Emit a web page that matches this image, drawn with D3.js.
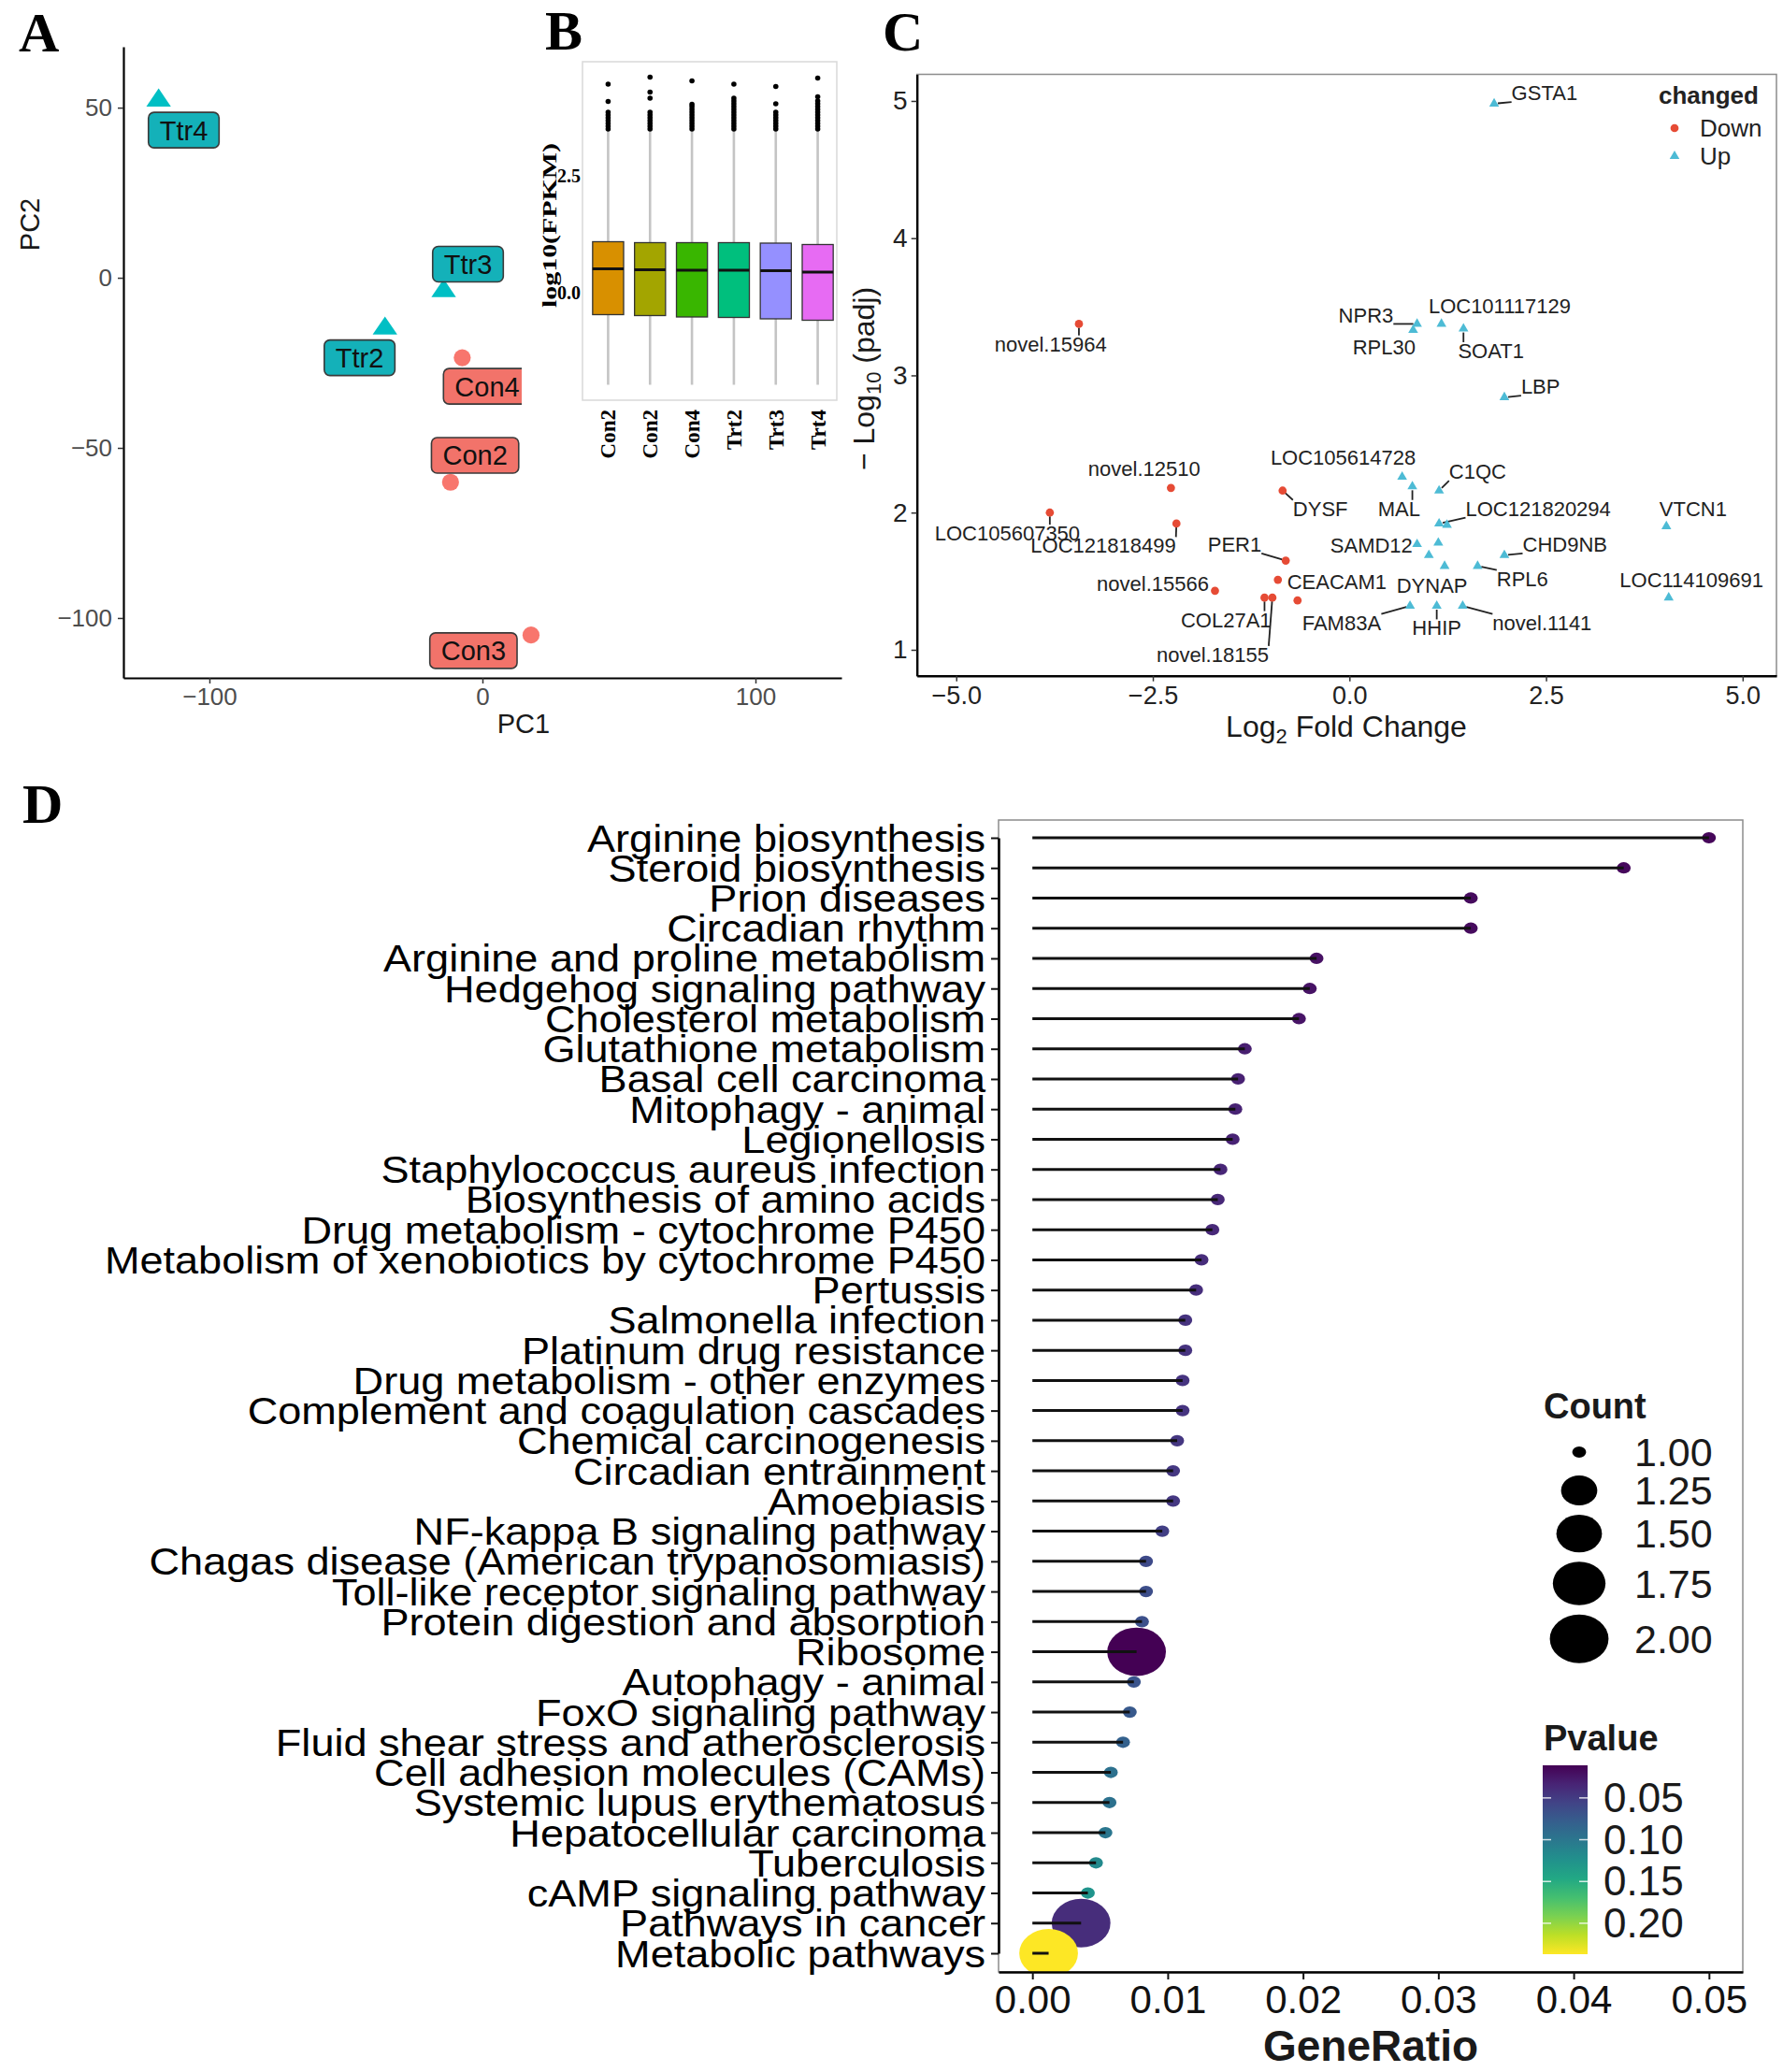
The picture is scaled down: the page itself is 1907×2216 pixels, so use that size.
<!DOCTYPE html>
<html>
<head>
<meta charset="utf-8">
<script src="https://cdn.jsdelivr.net/npm/d3@7"></script>
<style>
  body { margin: 0; background: #fff; }
  svg  { display: block; }
</style>
</head>
<body>
<script>
// ---------------- Data ----------------

// A: PCA
var pcaSample = ["Ttr4", "Ttr3", "Ttr2", "Con4", "Con2", "Con3"]
var pcaGroup  = ["Trt", "Trt", "Trt", "Con", "Con", "Con"]
var pcaPC1    = [-118.6, -14.2, -35.7, -7.4, -11.7, 17.8]
var pcaPC2    = [52.1, -3.9, -14.9, -23.5, -60.1, -105.0]
var pcaLabPC1 = [-109.4, -5.3, -45.0, 1.7, -2.7, -3.3]   // label (repel) positions
var pcaLabPC2 = [43.4, 4.0, -23.5, -31.9, -52.2, -109.6]
var pcaTicksX = [-100, 0, 100]
var pcaTicksY = [-100, -50, 0, 50]

// B: log10(FPKM) boxplots
var fpkmSample = ["Con2", "Con2", "Con4", "Trt2", "Trt3", "Trt4"]
var fpkmLow    = [-1.97, -1.97, -1.97, -1.97, -1.97, -1.97]
var fpkmQ1     = [-0.47, -0.49, -0.52, -0.53, -0.56, -0.59]
var fpkmMedian = [0.51, 0.49, 0.48, 0.48, 0.47, 0.44]
var fpkmQ3     = [1.09, 1.07, 1.07, 1.07, 1.06, 1.03]
var fpkmHigh   = [3.46, 3.46, 3.46, 3.46, 3.46, 3.46]
var fpkmOutliers = [
  [3.5, 3.56, 3.62, 3.68, 3.74, 3.8, 3.86, 4.09, 4.46],
  [3.5, 3.56, 3.62, 3.68, 3.74, 3.8, 3.86, 4.16, 4.29, 4.61],
  [3.5, 3.56, 3.62, 3.68, 3.74, 3.8, 3.86, 3.92, 3.98, 4.03, 4.53],
  [3.5, 3.56, 3.62, 3.68, 3.74, 3.8, 3.86, 3.92, 3.98, 4.04, 4.1, 4.16, 4.46],
  [3.5, 3.56, 3.62, 3.68, 3.74, 3.8, 3.86, 4.04, 4.41],
  [3.5, 3.56, 3.62, 3.68, 3.74, 3.8, 3.86, 3.92, 3.98, 4.04, 4.1, 4.19, 4.59]
]
var fpkmTicks = [0, 2.5]

// C: volcano
var geneName    = ["novel.15964", "novel.12510", "DYSF", "LOC105607350", "LOC121818499", "PER1", "CEACAM1", "",
                   "novel.15566", "COL27A1", "novel.18155",
                   "GSTA1", "NPR3", "RPL30", "LOC101117129", "SOAT1", "LBP", "LOC105614728", "MAL", "C1QC",
                   "LOC121820294", "", "VTCN1", "SAMD12", "", "", "CHD9NB", "DYNAP", "RPL6", "LOC114109691",
                   "FAM83A", "HHIP", "novel.1141"]
var geneLFC     = [-3.44, -2.27, -0.85, -3.81, -2.20, -0.81, -0.66, -0.91, -1.71, -1.08, -0.98,
                   1.84, 0.86, 0.81, 1.17, 1.45, 1.97, 0.67, 0.80, 1.14,
                   1.14, 1.24, 4.03, 0.86, 1.13, 1.01, 1.97, 1.21, 1.63, 4.06,
                   0.77, 1.11, 1.44]
var geneLogP    = [3.375, 2.18, 2.16, 2.00, 1.92, 1.65, 1.36, 1.51, 1.43, 1.38, 1.38,
                   4.98, 3.375, 3.33, 3.375, 3.34, 2.84, 2.26, 2.19, 2.16,
                   1.92, 1.91, 1.90, 1.77, 1.78, 1.69, 1.69, 1.61, 1.61, 1.38,
                   1.32, 1.32, 1.32]
var geneChanged = ["Down", "Down", "Down", "Down", "Down", "Down", "Down", "Down", "Down", "Down", "Down",
                   "Up", "Up", "Up", "Up", "Up", "Up", "Up", "Up", "Up",
                   "Up", "Up", "Up", "Up", "Up", "Up", "Up", "Up", "Up", "Up",
                   "Up", "Up", "Up"]
var geneLabLFC  = [-3.80, -2.61, -0.37, -4.35, -3.13, -1.46, -0.16, null, -2.50, -1.57, -1.74,
                   2.48, 0.21, 0.44, 1.91, 1.80, 2.43, -0.08, 0.63, 1.63,
                   2.40, null, 4.37, 0.28, null, null, 2.74, 1.05, 2.20, 4.35,
                   -0.10, 1.11, 2.45]
var geneLabLogP = [3.23, 2.32, 2.03, 1.85, 1.76, 1.77, 1.50, null, 1.48, 1.22, 0.966,
                   5.06, 3.44, 3.21, 3.51, 3.18, 2.92, 2.40, 2.03, 2.30,
                   2.03, null, 2.03, 1.76, null, null, 1.77, 1.47, 1.52, 1.51,
                   1.20, 1.16, 1.20]
var volcanoTicksX = [-5, -2.5, 0, 2.5, 5]
var volcanoTicksY = [1, 2, 3, 4, 5]
var changedLevels = ["Down", "Up"]

// D: KEGG enrichment lollipop
var pathways = ["Arginine biosynthesis", "Steroid biosynthesis", "Prion diseases", "Circadian rhythm",
  "Arginine and proline metabolism", "Hedgehog signaling pathway", "Cholesterol metabolism",
  "Glutathione metabolism", "Basal cell carcinoma", "Mitophagy - animal", "Legionellosis",
  "Staphylococcus aureus infection", "Biosynthesis of amino acids", "Drug metabolism - cytochrome P450",
  "Metabolism of xenobiotics by cytochrome P450", "Pertussis", "Salmonella infection",
  "Platinum drug resistance", "Drug metabolism - other enzymes", "Complement and coagulation cascades",
  "Chemical carcinogenesis", "Circadian entrainment", "Amoebiasis", "NF-kappa B signaling pathway",
  "Chagas disease (American trypanosomiasis)", "Toll-like receptor signaling pathway",
  "Protein digestion and absorption", "Ribosome", "Autophagy - animal", "FoxO signaling pathway",
  "Fluid shear stress and atherosclerosis", "Cell adhesion molecules (CAMs)",
  "Systemic lupus erythematosus", "Hepatocellular carcinoma", "Tuberculosis",
  "cAMP signaling pathway", "Pathways in cancer", "Metabolic pathways"]
var geneRatio = [0.0500, 0.0437, 0.0324, 0.0324, 0.0210, 0.0205, 0.0197, 0.0157, 0.0152, 0.0150,
  0.0148, 0.0139, 0.0137, 0.0133, 0.0125, 0.0121, 0.0113, 0.0113, 0.0111, 0.0111,
  0.0107, 0.0104, 0.0104, 0.0096, 0.0084, 0.0084, 0.0081, 0.0077, 0.0075, 0.0072,
  0.0067, 0.0058, 0.0057, 0.0054, 0.0047, 0.0041, 0.0036, 0.0012]
var geneCount = [1, 1, 1, 1, 1, 1, 1, 1, 1, 1, 1, 1, 1, 1, 1, 1, 1, 1, 1, 1,
  1, 1, 1, 1, 1, 1, 1, 2, 1, 1, 1, 1, 1, 1, 1, 1, 2, 2]
var pValue = [0.015, 0.016, 0.018, 0.018, 0.021, 0.022, 0.023, 0.030, 0.032, 0.033,
  0.033, 0.035, 0.036, 0.037, 0.040, 0.041, 0.044, 0.044, 0.045, 0.045,
  0.047, 0.048, 0.048, 0.053, 0.062, 0.064, 0.066, 0.011, 0.070, 0.073,
  0.080, 0.094, 0.095, 0.100, 0.118, 0.128, 0.040, 0.237]
var ratioTicks = [0, 0.01, 0.02, 0.03, 0.04, 0.05]
var countBreaks = [1, 1.25, 1.5, 1.75, 2]
var pvalueBreaks = [0.05, 0.10, 0.15, 0.20]

// ---------------- Setup ----------------
var W = 1907, H = 2216
var SANS  = "'Liberation Sans', Arial, Helvetica, sans-serif",
    SERIF = "'Liberation Serif', 'Times New Roman', serif"

var svg = d3.select("body").append("svg")
            .attr("width", W).attr("height", H)
            .attr("font-family", SANS)
svg.append("rect").attr("width", W).attr("height", H).attr("fill", "#fff")

// Restyle a d3 axis group
function styleAxis (g, o) {
  g.attr("font-family", o.font || SANS)
  g.select(".domain").attr("stroke", o.line || "#000").attr("stroke-width", o.lineW || 2)
  g.selectAll(".tick line").attr("stroke", o.tick || "#333").attr("stroke-width", o.tickW || 1.5)
  g.selectAll(".tick text").attr("fill", o.text || "#4d4d4d")
   .attr("font-size", o.size).attr("font-weight", o.weight || "normal")
}

// Panel letters
function panelLetter (txt, x, y) {
  svg.append("text").attr("x", x).attr("y", y)
     .attr("font-family", SERIF).attr("font-weight", "bold").attr("font-size", 60)
     .text(txt)
}

// ---------------- A: PCA ----------------
var xA = d3.scaleLinear().domain([-131.5, 131.5]).range([132, 900]),
    yA = d3.scaleLinear().domain([-117.6, 67.9]).range([725, 50])
var gA = svg.append("g")

gA.append("g").attr("transform", "translate(0,725)")
  .call(d3.axisBottom(xA).tickValues(pcaTicksX).tickSize(6).tickSizeOuter(0).tickPadding(5))
  .call(styleAxis, { size: 26, lineW: 2.2 })
gA.append("g").attr("transform", "translate(132,0)")
  .call(d3.axisLeft(yA).tickValues(pcaTicksY).tickSize(6).tickSizeOuter(0).tickPadding(6))
  .call(styleAxis, { size: 26, lineW: 2.2 })

gA.append("text").attr("x", 560).attr("y", 784).attr("text-anchor", "middle")
  .attr("font-size", 29).attr("fill", "#1a1a1a").text("PC1")
gA.append("text").attr("transform", "translate(42,240) rotate(-90)").attr("text-anchor", "middle")
  .attr("font-size", 29).attr("fill", "#1a1a1a").text("PC2")

var pcaIdx = d3.range(pcaSample.length)
var ptColour  = { Trt: "#00BFC4", Con: "#F8766D" },
    boxColour = { Trt: "#14B1B9", Con: "#F2736A" }

// Points
gA.selectAll(".pt").data(pcaIdx).enter()
  .append("path")
    .attr("class", "pt")
    .attr("d", function (i) {
      return pcaGroup[i] == "Trt"
        ? d3.symbol().type(d3.symbolTriangle).size(300)()
        : d3.symbol().type(d3.symbolCircle).size(260)()
    })
    .attr("transform", function (i) {
      return "translate(" + xA(pcaPC1[i]) + "," + yA(pcaPC2[i]) + ")" +
             (pcaGroup[i] == "Trt" ? " scale(1,0.85)" : "")
    })
    .attr("fill", function (i) { return ptColour[pcaGroup[i]] })

// Labels with boxes
pcaIdx.forEach(function (i) {
  var g = gA.append("g")
            .attr("transform", "translate(" + xA(pcaLabPC1[i]) + "," + yA(pcaLabPC2[i]) + ")")
  var t = g.append("text").attr("text-anchor", "middle").attr("dy", "0.36em")
           .attr("font-size", 29).attr("fill", "#111").text(pcaSample[i])
  var w = t.node().getComputedTextLength()
  g.insert("rect", "text")
   .attr("x", -w / 2 - 12).attr("y", -19).attr("width", w + 24).attr("height", 38)
   .attr("rx", 6).attr("fill", boxColour[pcaGroup[i]])
   .attr("stroke", "#3a3a3a").attr("stroke-width", 1.6)
})

// ---------------- B: boxplots ----------------
var gB = svg.append("g")
gB.append("rect").attr("x", 558).attr("y", 0).attr("width", 345).attr("height", 520).attr("fill", "#fff")

var fpkmColour = ["#D89000", "#A3A500", "#39B600", "#00BF7D", "#9590FF", "#E76BF3"]
var xB = d3.scaleBand().domain(d3.range(fpkmSample.length)).range([628, 897])
           .paddingInner(0.26).paddingOuter(0.13),
    yB = d3.scaleLinear().domain([-2.3, 4.94]).range([428, 66])

gB.append("rect").attr("x", 623).attr("y", 66).attr("width", 272).attr("height", 362)
  .attr("fill", "none").attr("stroke", "#d9d9d9").attr("stroke-width", 1.5)

var boxes = gB.selectAll(".box").data(d3.range(fpkmSample.length)).enter()
              .append("g").attr("class", "box")
boxes.append("line")
  .attr("x1", function (i) { return xB(i) + xB.bandwidth() / 2 })
  .attr("x2", function (i) { return xB(i) + xB.bandwidth() / 2 })
  .attr("y1", function (i) { return yB(fpkmLow[i]) })
  .attr("y2", function (i) { return yB(fpkmHigh[i]) })
  .attr("stroke", "#c4c4c4").attr("stroke-width", 2.6)
boxes.append("rect")
  .attr("x", function (i) { return xB(i) })
  .attr("width", xB.bandwidth())
  .attr("y", function (i) { return yB(fpkmQ3[i]) })
  .attr("height", function (i) { return yB(fpkmQ1[i]) - yB(fpkmQ3[i]) })
  .attr("fill", function (i) { return fpkmColour[i] })
  .attr("stroke", "#333").attr("stroke-width", 1.3)
boxes.append("line")
  .attr("x1", function (i) { return xB(i) })
  .attr("x2", function (i) { return xB(i) + xB.bandwidth() })
  .attr("y1", function (i) { return yB(fpkmMedian[i]) })
  .attr("y2", function (i) { return yB(fpkmMedian[i]) })
  .attr("stroke", "#111").attr("stroke-width", 3)
boxes.each(function (i) {
  d3.select(this).selectAll("circle").data(fpkmOutliers[i]).enter()
    .append("circle")
      .attr("cx", xB(i) + xB.bandwidth() / 2)
      .attr("cy", function (v) { return yB(v) })
      .attr("r", 2.8).attr("fill", "#000")
})

gB.selectAll(".ytk").data(fpkmTicks).enter()
  .append("text")
    .attr("x", 621).attr("y", function (v) { return yB(v) })
    .attr("dy", "0.35em").attr("text-anchor", "end")
    .attr("font-family", SERIF).attr("font-weight", "bold").attr("font-size", 20)
    .text(d3.format(".1f"))
gB.append("text").attr("transform", "translate(595,241) rotate(-90)").attr("text-anchor", "middle")
  .attr("font-family", SERIF).attr("font-weight", "bold").attr("font-size", 22)
  .attr("textLength", 176).attr("lengthAdjust", "spacingAndGlyphs")
  .text("log10(FPKM)")
gB.selectAll(".xtk").data(d3.range(fpkmSample.length)).enter()
  .append("text")
    .attr("transform", function (i) {
      return "translate(" + (xB(i) + xB.bandwidth() / 2 + 8) + ",438) rotate(-90)"
    })
    .attr("text-anchor", "end")
    .attr("font-family", SERIF).attr("font-weight", "bold").attr("font-size", 23)
    .text(function (i) { return fpkmSample[i] })

// ---------------- C: volcano ----------------
var gC = svg.append("g")
var xC = d3.scaleLinear().domain([-5.5, 5.43]).range([980.7, 1900]),
    yC = d3.scaleLinear().domain([0.811, 5.194]).range([722.7, 79.5])
var changedColour = { Down: "#E64B35", Up: "#4DBBD5" }

gC.append("rect").attr("x", 980.7).attr("y", 79.5).attr("width", 1900 - 980.7).attr("height", 722.7 - 79.5)
  .attr("fill", "none").attr("stroke", "#8c8c8c").attr("stroke-width", 1.5)
gC.append("g").attr("transform", "translate(0,722.7)")
  .call(d3.axisBottom(xC).tickValues(volcanoTicksX).tickFormat(d3.format(".1f"))
          .tickSize(6).tickSizeOuter(0).tickPadding(5))
  .call(styleAxis, { size: 27, text: "#222", lineW: 2.4 })
gC.append("g").attr("transform", "translate(980.7,0)")
  .call(d3.axisLeft(yC).tickValues(volcanoTicksY).tickFormat(d3.format("d"))
          .tickSize(6).tickSizeOuter(0).tickPadding(4))
  .call(styleAxis, { size: 28, text: "#222", lineW: 2.4 })

var xt = gC.append("text").attr("x", 1440).attr("y", 788).attr("text-anchor", "middle")
           .attr("font-size", 32).attr("fill", "#1a1a1a")
xt.append("tspan").text("Log")
xt.append("tspan").attr("font-size", 22).attr("dy", 7).text("2")
xt.append("tspan").attr("dy", -7).text(" Fold Change")
var yt = gC.append("text").attr("transform", "translate(935,405) rotate(-90)").attr("text-anchor", "middle")
           .attr("font-size", 32).attr("fill", "#1a1a1a")
yt.append("tspan").text("\u2212 Log")
yt.append("tspan").attr("font-size", 22).attr("dy", 7).text("10")
yt.append("tspan").attr("dy", -7).text(" (padj)")

var geneIdx = d3.range(geneName.length)
var triSmall = d3.symbol().type(d3.symbolTriangle).size(48)(),
    cirSmall = d3.symbol().type(d3.symbolCircle).size(60)()

// Labels first (to get bboxes), segments, then points on top
var segLayer = gC.append("g"), labLayer = gC.append("g"), ptLayer = gC.append("g")
geneIdx.forEach(function (i) {
  if (!geneName[i]) return
  var t = labLayer.append("text")
    .attr("x", xC(geneLabLFC[i])).attr("y", yC(geneLabLogP[i]))
    .attr("dy", "0.36em").attr("text-anchor", "middle")
    .attr("font-size", 22).attr("fill", "#222").text(geneName[i])
  var b  = t.node().getBBox(),
      px = xC(geneLFC[i]), py = yC(geneLogP[i]),
      nx = Math.max(b.x, Math.min(px, b.x + b.width)),
      ny = Math.max(b.y + 3, Math.min(py, b.y + b.height - 3)),
      d  = Math.hypot(nx - px, ny - py)
  if (d > 12) {
    segLayer.append("line")
      .attr("x1", px + (nx - px) * 4 / d).attr("y1", py + (ny - py) * 4 / d)
      .attr("x2", nx).attr("y2", ny)
      .attr("stroke", "#222").attr("stroke-width", 1.8)
  }
})
ptLayer.selectAll("path").data(geneIdx).enter()
  .append("path")
    .attr("d", function (i) { return geneChanged[i] == "Up" ? triSmall : cirSmall })
    .attr("transform", function (i) { return "translate(" + xC(geneLFC[i]) + "," + yC(geneLogP[i]) + ")" })
    .attr("fill", function (i) { return changedColour[geneChanged[i]] })

// Legend
gC.append("text").attr("x", 1774).attr("y", 111).attr("font-size", 26).attr("font-weight", "bold")
  .attr("fill", "#222").text("changed")
changedLevels.forEach(function (lv, k) {
  var y = 137 + k * 30
  gC.append("path")
    .attr("d", lv == "Up" ? triSmall : cirSmall)
    .attr("transform", "translate(1791," + y + ")")
    .attr("fill", changedColour[lv])
  gC.append("text").attr("x", 1818).attr("y", y + 9).attr("font-size", 26)
    .attr("fill", "#222").text(lv)
})

// ---------------- D: lollipop ----------------
var gD = svg.append("g")
var xD = d3.scaleLinear().domain([-0.0025, 0.0525]).range([1068, 1864]),
    yD = d3.scalePoint().domain(pathways).range([896, 2089])
var pCol  = d3.scaleSequential(d3.interpolateViridis).domain(d3.extent(pValue))
var rSize = d3.scaleLinear().domain([0, 1]).range([6.8, 28.8]) // area-style: r on sqrt of rescaled count
function radius (c) { return rSize(Math.sqrt((c - 1) / (2 - 1))) }

gD.append("clipPath").attr("id", "clipD")
  .append("rect").attr("x", 1068).attr("y", 877).attr("width", 796).attr("height", 1232)
gD.append("rect").attr("x", 1068).attr("y", 877).attr("width", 796).attr("height", 1232)
  .attr("fill", "none").attr("stroke", "#8c8c8c").attr("stroke-width", 1.5)

var dIdx = d3.range(pathways.length)
var plot = gD.append("g").attr("clip-path", "url(#clipD)")
plot.selectAll("ellipse").data(dIdx).enter()
  .append("ellipse")
    .attr("cx", function (i) { return xD(geneRatio[i]) })
    .attr("cy", function (i) { return yD(pathways[i]) })
    .attr("rx", function (i) { return radius(geneCount[i]) * 1.09 })
    .attr("ry", function (i) { return radius(geneCount[i]) * 0.9 })
    .attr("fill", function (i) { return pCol(pValue[i]) })
plot.selectAll("line").data(dIdx).enter()
  .append("line")
    .attr("x1", xD(0))
    .attr("x2", function (i) { return xD(geneRatio[i]) })
    .attr("y1", function (i) { return yD(pathways[i]) })
    .attr("y2", function (i) { return yD(pathways[i]) })
    .attr("stroke", "#111").attr("stroke-width", 3)

gD.append("g").attr("transform", "translate(0,2109)")
  .call(d3.axisBottom(xD).tickValues(ratioTicks).tickFormat(d3.format(".2f"))
          .tickSize(8).tickSizeOuter(0).tickPadding(6))
  .call(styleAxis, { size: 42, text: "#111", lineW: 2.6, tick: "#111", tickW: 2 })
gD.append("g").attr("transform", "translate(1068,0)")
  .call(d3.axisLeft(yD).tickSize(8).tickSizeOuter(0).tickFormat(function () { return "" }))
  .call(styleAxis, { size: 44, text: "#000", lineW: 2.6, tick: "#111", tickW: 2 })

// Pathway names: slightly wide text, anchored at the tick
gD.selectAll(".plab").data(dIdx).enter()
  .append("text")
    .attr("class", "plab")
    .attr("transform", function (i) {
      return "translate(1054," + (yD(pathways[i]) + 14.5) + ") scale(1.1,1)"
    })
    .attr("text-anchor", "end").attr("font-size", 41).attr("fill", "#000")
    .text(function (i) { return pathways[i] })

gD.append("text").attr("x", 1466).attr("y", 2204).attr("text-anchor", "middle")
  .attr("font-size", 46).attr("font-weight", "bold").attr("fill", "#1a1a1a").text("GeneRatio")

// Count legend
gD.append("text").attr("x", 1651).attr("y", 1517).attr("font-size", 38).attr("font-weight", "bold")
  .attr("fill", "#1a1a1a").text("Count")
var keyY = 1553
countBreaks.forEach(function (c, k) {
  var h = Math.max(40, radius(c) * 1.8 + 10)
  if (k > 0) {
    var hp = Math.max(40, radius(countBreaks[k - 1]) * 1.8 + 10)
    keyY += (h + hp) / 2
  }
  gD.append("ellipse").attr("cx", 1689).attr("cy", keyY)
    .attr("rx", radius(c) * 1.09).attr("ry", radius(c) * 0.9).attr("fill", "#000")
  gD.append("text").attr("x", 1748).attr("y", keyY + 15).attr("font-size", 43)
    .attr("fill", "#1a1a1a").text(d3.format(".2f")(c))
})

// Pvalue colourbar
gD.append("text").attr("x", 1651).attr("y", 1872).attr("font-size", 38).attr("font-weight", "bold")
  .attr("fill", "#1a1a1a").text("Pvalue")
var grad = gD.append("defs").append("linearGradient").attr("id", "viridisBar")
             .attr("x1", 0).attr("y1", 0).attr("x2", 0).attr("y2", 1)
d3.range(0, 1.0001, 0.1).forEach(function (t) {
  grad.append("stop").attr("offset", t).attr("stop-color", d3.interpolateViridis(t))
})
var yCb = d3.scaleLinear().domain(pCol.domain()).range([1888, 2090])
gD.append("rect").attr("x", 1650).attr("y", 1888).attr("width", 48).attr("height", 202)
  .attr("fill", "url(#viridisBar)")
pvalueBreaks.forEach(function (p) {
  var y = yCb(p)
  gD.append("line").attr("x1", 1650).attr("x2", 1659).attr("y1", y).attr("y2", y)
    .attr("stroke", "#fff").attr("stroke-width", 1.5).attr("opacity", 0.8)
  gD.append("line").attr("x1", 1689).attr("x2", 1698).attr("y1", y).attr("y2", y)
    .attr("stroke", "#fff").attr("stroke-width", 1.5).attr("opacity", 0.8)
  gD.append("text").attr("x", 1715).attr("y", y + 15).attr("font-size", 44)
    .attr("fill", "#1a1a1a").text(d3.format(".2f")(p))
})

// ---------------- Panel letters ----------------
panelLetter("A", 20, 55)
panelLetter("B", 583, 53)
panelLetter("C", 944, 54)
panelLetter("D", 24, 880)
</script>
</body>
</html>
